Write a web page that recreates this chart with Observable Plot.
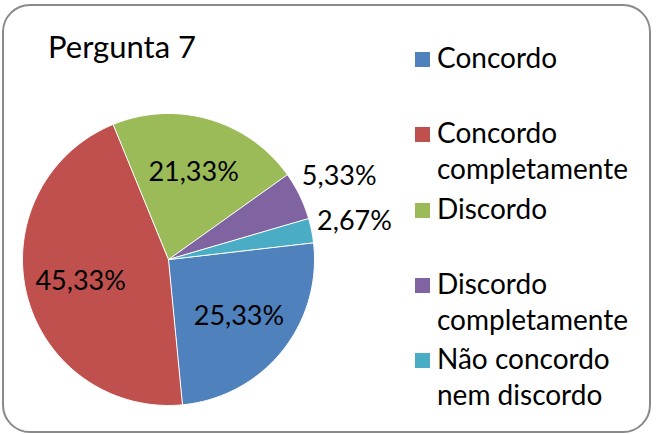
<!DOCTYPE html>
<html>
<head>
<meta charset="utf-8">
<script src="https://cdn.jsdelivr.net/npm/d3@7"></script>
<script src="https://cdn.jsdelivr.net/npm/@observablehq/plot@0.6"></script>
<style>
  html, body { margin: 0; padding: 0; background: #fff; }
  #wrap { position: relative; width: 660px; height: 434px; overflow: hidden; font-family: Lato, "Open Sans", sans-serif; color: #000; }
  #wrap svg { position: absolute; left: 0; top: 0; }
  #frame { position: absolute; left: 2px; top: 4px; width: 645px; height: 425px; border: 2px solid #8a8a8a; border-radius: 28px; pointer-events: none; }
  #title { position: absolute; left: 48px; top: 30.5px; font-size: 31px; line-height: 31px; white-space: nowrap; }
  #legend { position: absolute; left: 415px; top: 39.2px; }
  .item { position: relative; height: 75.3px; }
  .sw { position: absolute; left: 0; top: 13px; width: 15px; height: 15px; }
  .lbl { position: absolute; left: 22px; top: 0; width: 205px; font-size: 28px; line-height: 36px; }
</style>
</head>
<body>
<div id="wrap">
  <div id="title"></div>
  <div id="legend"></div>
  <div id="frame"></div>
</div>
<script>
// ---- data ----
const title = "Pergunta 7";
const categories = ["Concordo", "Concordo completamente", "Discordo", "Discordo completamente", "Não concordo nem discordo"];
const percents = [25.33, 45.33, 21.33, 5.33, 2.67];
const colors = ["#4F81BD", "#C0504D", "#9BBB59", "#8064A2", "#4BACC6"];

// ---- layout constants ----
const W = 660, H = 434;
const cx = 168, cy = 259, R = 146;
const startDeg = 83.3;

const rows = categories.map((c, i) => ({category: c, value: percents[i]}));
const arcs = d3.pie().sort(null).value(d => d.value)
  .startAngle(startDeg * Math.PI / 180)
  .endAngle(startDeg * Math.PI / 180 + 2 * Math.PI)(rows);

// polygon outline for each slice in unit-circle data space
const pts = [];
for (const a of arcs) {
  const cat = a.data.category;
  pts.push({category: cat, x: 0, y: 0});
  const n = Math.max(2, Math.ceil((a.endAngle - a.startAngle) / (Math.PI / 180)));
  for (let k = 0; k <= n; k++) {
    const t = a.startAngle + (a.endAngle - a.startAngle) * k / n;
    pts.push({category: cat, x: Math.sin(t), y: Math.cos(t)});
  }
}

const fmt = v => d3.format(".2f")(v).replace(".", ",") + "%";
const labels = arcs.map(a => {
  const mid = (a.startAngle + a.endAngle) / 2;
  const r = a.data.value > 10 ? 0.62 : 1.3;
  return {text: fmt(a.data.value), x: r * Math.sin(mid), y: r * Math.cos(mid)};
});

const chart = Plot.plot({
  width: W, height: H,
  margin: 0,
  x: {domain: [-cx / R, (W - cx) / R], axis: null},
  y: {domain: [-(H - cy) / R, cy / R], axis: null},
  color: {domain: categories, range: colors},
  style: {fontFamily: "Lato, 'Open Sans', sans-serif", background: "transparent"},
  marks: [
    Plot.line(pts, {x: "x", y: "y", z: "category", fill: "category", stroke: "white", strokeWidth: 1, curve: "linear-closed"}),
    Plot.text(labels, {x: "x", y: "y", text: "text", fontSize: 27, fill: "#000"})
  ]
});
document.getElementById("wrap").prepend(chart);

document.getElementById("title").textContent = title;
const legend = d3.select("#legend");
categories.forEach((c, i) => {
  const it = legend.append("div").attr("class", "item");
  it.append("div").attr("class", "sw").style("background", colors[i]);
  it.append("div").attr("class", "lbl").text(c);
});
</script>
</body>
</html>
